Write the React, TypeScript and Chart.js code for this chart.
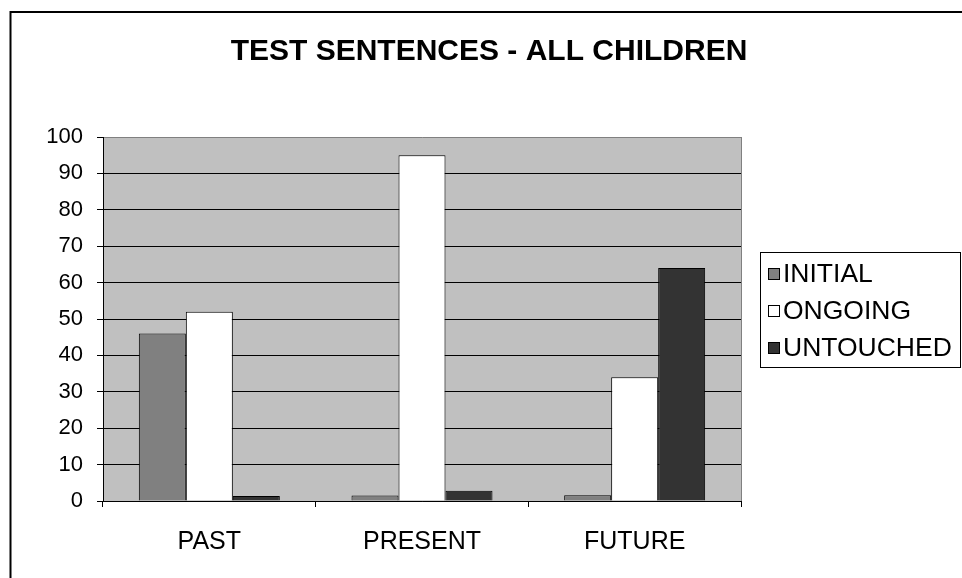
import React, { useEffect, useRef } from "react";
import { Chart, registerables } from "chart.js";

Chart.register(...registerables);

const categories = ["PAST", "PRESENT", "FUTURE"];
const seriesNames = ["INITIAL", "ONGOING", "UNTOUCHED"];
const initialValues = [46, 1.5, 1.6];
const ongoingValues = [52, 95, 34];
const untouchedValues = [1.4, 2.8, 64];
const seriesColors = ["#808080", "#ffffff", "#333333"];
const yTicks = [0, 10, 20, 30, 40, 50, 60, 70, 80, 90, 100];
const titleText = "TEST SENTENCES - ALL CHILDREN";

const FONT = "'Liberation Sans', Arial, sans-serif";

const framePlugin = {
  id: "framePlugin",
  beforeDraw(chart: any) {
    const { ctx, chartArea } = chart;
    ctx.save();
    ctx.fillStyle = "#ffffff";
    ctx.fillRect(0, 0, chart.width, chart.height);
    ctx.fillStyle = "#c0c0c0";
    ctx.fillRect(chartArea.left, chartArea.top, chartArea.right - chartArea.left, chartArea.bottom - chartArea.top);
    ctx.restore();
  },
  afterDraw(chart: any) {
    const { ctx, chartArea } = chart;
    ctx.save();
    ctx.strokeStyle = "#808080";
    ctx.lineWidth = 1;
    ctx.beginPath();
    ctx.moveTo(chartArea.right + 0.5, chartArea.top);
    ctx.lineTo(chartArea.right + 0.5, chartArea.bottom);
    ctx.stroke();
    ctx.strokeStyle = "#000000";
    ctx.lineWidth = 2;
    ctx.strokeRect(10.5, 12, 3000, 3000);
    ctx.fillStyle = "#000000";
    ctx.font = "bold 30px " + FONT;
    ctx.textAlign = "center";
    ctx.textBaseline = "middle";
    ctx.fillText(titleText, 489, 52);
    const bx = 760, by = 252, bw = 200, bh = 115;
    ctx.lineWidth = 1;
    ctx.strokeStyle = "#000000";
    ctx.fillStyle = "#ffffff";
    ctx.fillRect(bx, by, bw, bh);
    ctx.strokeRect(bx + 0.5, by + 0.5, bw, bh);
    ctx.font = "26.5px " + FONT;
    ctx.textAlign = "left";
    chart.data.datasets.forEach((ds: any, i: number) => {
      const cy = 274 + i * 37;
      ctx.fillStyle = ds.backgroundColor;
      ctx.fillRect(768, cy - 6, 12, 12);
      ctx.strokeStyle = "#000000";
      ctx.strokeRect(768.5, cy - 5.5, 11, 11);
      ctx.fillStyle = "#000000";
      ctx.fillText(ds.label, 783, cy + 1);
    });
    ctx.restore();
  },
};

export default function App() {
  const ref = useRef<HTMLCanvasElement>(null);
  useEffect(() => {
    if (!ref.current) return;
    const values = [initialValues, ongoingValues, untouchedValues];
    const chart = new Chart(ref.current, {
      type: "bar",
      data: {
        labels: categories,
        datasets: seriesNames.map((name, i) => ({
          label: name,
          data: values[i],
          backgroundColor: seriesColors[i],
          borderColor: "#000000",
          borderWidth: 1,
          categoryPercentage: 0.663,
          barPercentage: 1,
        })),
      },
      options: {
        responsive: false,
        animation: false,
        devicePixelRatio: 1,
        layout: { padding: { left: 0, top: 137, right: 221, bottom: 0 } },
        plugins: {
          legend: { display: false },
          title: { display: false },
          tooltip: { enabled: false },
        },
        scales: {
          x: {
            offset: true,
            grid: {
              offset: true,
              drawOnChartArea: false,
              drawTicks: true,
              tickLength: 6,
              color: "#000000",
              lineWidth: 1,
            },
            border: { display: true, color: "#000000", width: 1 },
            ticks: {
              color: "#000000",
              font: { family: FONT, size: 25 },
              padding: 20,
              maxRotation: 0,
            },
            afterFit(scale: any) {
              scale.height = 77;
            },
          },
          y: {
            min: 0,
            max: 100,
            afterBuildTicks(scale: any) {
              scale.ticks = yTicks.map((v) => ({ value: v }));
            },
            grid: {
              color: (c: any) => (c.tick && c.tick.value === 100 ? "#808080" : "#000000"),
              lineWidth: 1,
              tickLength: 6,
              tickColor: "#000000",
            },
            border: { display: true, color: "#000000", width: 1 },
            ticks: {
              color: "#000000",
              font: { family: FONT, size: 22 },
              padding: 14,
            },
            afterFit(scale: any) {
              scale.width = 103;
            },
          },
        },
      },
      plugins: [framePlugin],
    });
    return () => chart.destroy();
  }, []);
  return (
    <div style={{ position: "absolute", left: 0, top: 0, width: 962, height: 578 }}>
      <canvas ref={ref} width={962} height={578} style={{ width: 962, height: 578 }} />
    </div>
  );
}
